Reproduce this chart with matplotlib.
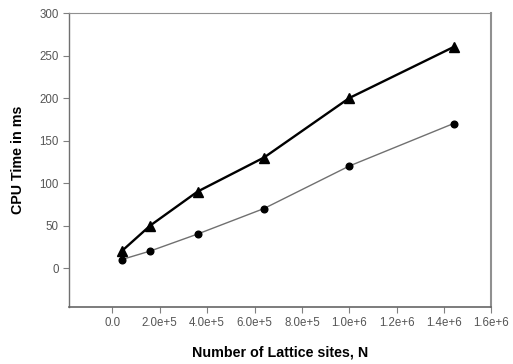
import matplotlib
matplotlib.use("Agg")
import matplotlib.pyplot as plt

N = [40000, 160000, 360000, 640000, 1000000, 1440000]
cpu_tri = [20, 50, 90, 130, 200, 260]
cpu_circ = [10, 20, 40, 70, 120, 170]
xticks = [0, 2e5, 4e5, 6e5, 8e5, 1e6, 1.2e6, 1.4e6, 1.6e6]
xticklabels = ["0.0", "2.0e+5", "4.0e+5", "6.0e+5", "8.0e+5", "1.0e+6", "1.2e+6", "1.4e+6", "1.6e+6"]
yticks = [0, 50, 100, 150, 200, 250, 300]

plt.rcParams['font.family'] = ['Liberation Sans', 'DejaVu Sans']
fig = plt.figure(figsize=(5.13, 3.64), dpi=100)
ax = fig.add_axes([69/513, 1-306.7/364, (491.5-69)/513, (306.7-13)/364])

ax.plot(N, cpu_circ, color='#707070', lw=1.0, marker='o', ms=4.8, mfc='black', mec='black', zorder=3)
ax.plot(N, cpu_tri, color='black', lw=1.7, marker='^', ms=7.5, mfc='black', mec='black', zorder=4)

ax.set_xlim(-1.83e5, 1.6e6)
ax.set_ylim(-45.5, 300)
ax.set_xticks(xticks)
ax.set_xticklabels(xticklabels)
ax.set_yticks(yticks)
ax.tick_params(direction='out', length=4, width=0.8, colors='#808080', labelcolor='#555555', labelsize=8.3)
ax.spines['left'].set_color('#707070')
ax.spines['left'].set_linewidth(1.0)
ax.spines['bottom'].set_color('#666666')
ax.spines['bottom'].set_linewidth(1.2)
ax.spines['top'].set_color('#909090')
ax.spines['top'].set_linewidth(0.8)
ax.spines['right'].set_color('#909090')
ax.spines['right'].set_linewidth(1.5)

ax.set_xlabel("Number of Lattice sites, N", fontsize=10.3, fontweight='bold', labelpad=12)
ax.set_ylabel("CPU Time in ms", fontsize=10.3, fontweight='bold', labelpad=10)

fig.savefig("out.png", dpi=100)
